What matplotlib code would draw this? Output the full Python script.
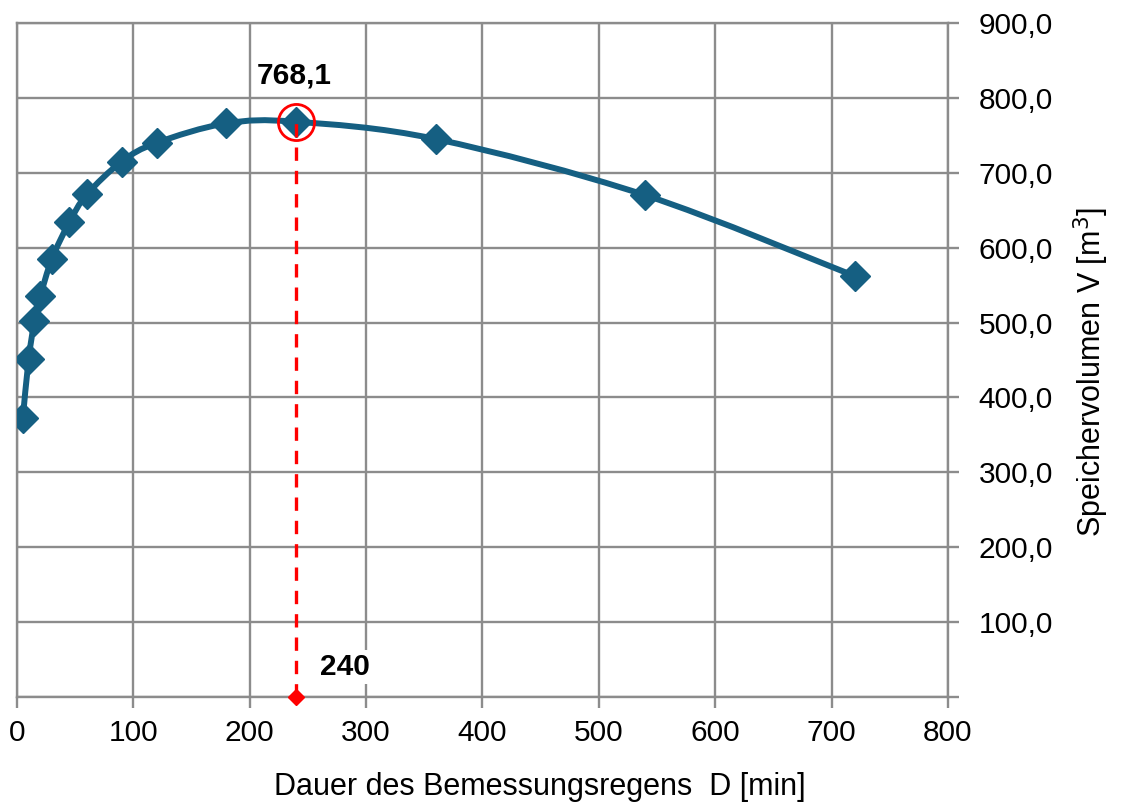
import numpy as np
import matplotlib
matplotlib.use("Agg")
import matplotlib.pyplot as plt
from matplotlib.path import Path
from matplotlib.patches import PathPatch
from matplotlib.ticker import FuncFormatter

# Dauer D [min] und Speichervolumen V [m3]
dauer = [5, 10, 15, 20, 30, 45, 60, 90, 120, 180, 240, 360, 540, 720]
volumen = [372, 451, 502, 535, 585, 634, 671, 715, 740, 766, 768.1, 745, 670, 562]
d_max = 240
v_max = 768.1

LINE = "#155f82"
GRID = "#8c8c8c"
plt.rcParams["font.family"] = ["Liberation Sans", "DejaVu Sans"]


def smooth_path(x, y):
    """Excel-artige Glaettung (Catmull-Rom als Bezier)"""
    p = np.column_stack([x, y]).astype(float)
    verts = [p[0]]
    codes = [Path.MOVETO]
    n = len(p)
    for i in range(n - 1):
        p0 = p[i - 1] if i > 0 else p[i]
        p3 = p[i + 2] if i + 2 < n else p[i + 1]
        c1 = p[i] + (p[i + 1] - p0) / 6.0
        c2 = p[i + 1] - (p3 - p[i]) / 6.0
        verts += [c1, c2, p[i + 1]]
        codes += [Path.CURVE4] * 3
    return Path(verts, codes)


fig = plt.figure(figsize=(11.22, 8.02), dpi=100)
ax = fig.add_axes([17 / 1122, 1 - 697 / 802, (948 - 17) / 1122, (697 - 23) / 802])

ax.set_xlim(0, 800)
ax.set_ylim(0, 900)
ax.set_xticks(range(0, 801, 100))
ax.set_yticks(range(0, 901, 100))
ax.grid(True, color=GRID, linewidth=1.7)
ax.set_axisbelow(True)
for s in ax.spines.values():
    s.set_color(GRID)
    s.set_linewidth(1.7)

ax.yaxis.tick_right()
ax.yaxis.set_label_position("right")
ax.yaxis.set_major_formatter(FuncFormatter(
    lambda v, pos: "" if v == 0 else f"{v:.1f}".replace(".", ",")))
ax.tick_params(axis="both", labelsize=21.5, color=GRID, width=1.7, length=8,
               direction="out", pad=8)
ax.tick_params(axis="y", right=True, left=False, pad=14)

ax.set_xlabel("Dauer des Bemessungsregens  D [min]", fontsize=22)
ax.set_ylabel("Speichervolumen V [m$^3$]", fontsize=22)
ax.xaxis.set_label_coords(0.562, -0.112)
ax.yaxis.set_label_coords(1.133, 0.482)

# Kurve
patch = PathPatch(smooth_path(dauer, volumen), facecolor="none",
                  edgecolor=LINE, linewidth=4.3, zorder=3)
ax.add_patch(patch)
ax.plot(dauer, volumen, linestyle="none", marker="D", markersize=15,
        color=LINE, zorder=4)

# Maximum markieren
ax.plot([d_max, d_max], [0, v_max], color="red", linestyle=(0, (4, 3)),
        linewidth=2.4, zorder=5)
ax.plot([d_max], [0], marker="D", markersize=8, color="red", clip_on=False,
        zorder=6)
ax.plot([d_max], [v_max], marker="o", markersize=26, markerfacecolor="none",
        markeredgecolor="red", markeredgewidth=2, zorder=6)
ax.text(d_max - 2, 830, f"{v_max:.1f}".replace(".", ","), fontsize=21.5,
        fontweight="bold", ha="center", va="center", zorder=7)
ax.text(282, 40, f"{d_max}", fontsize=21.5, fontweight="bold", ha="center",
        va="center", zorder=7,
        bbox=dict(facecolor="white", edgecolor="none", pad=2))

fig.savefig("out.png", dpi=100)
